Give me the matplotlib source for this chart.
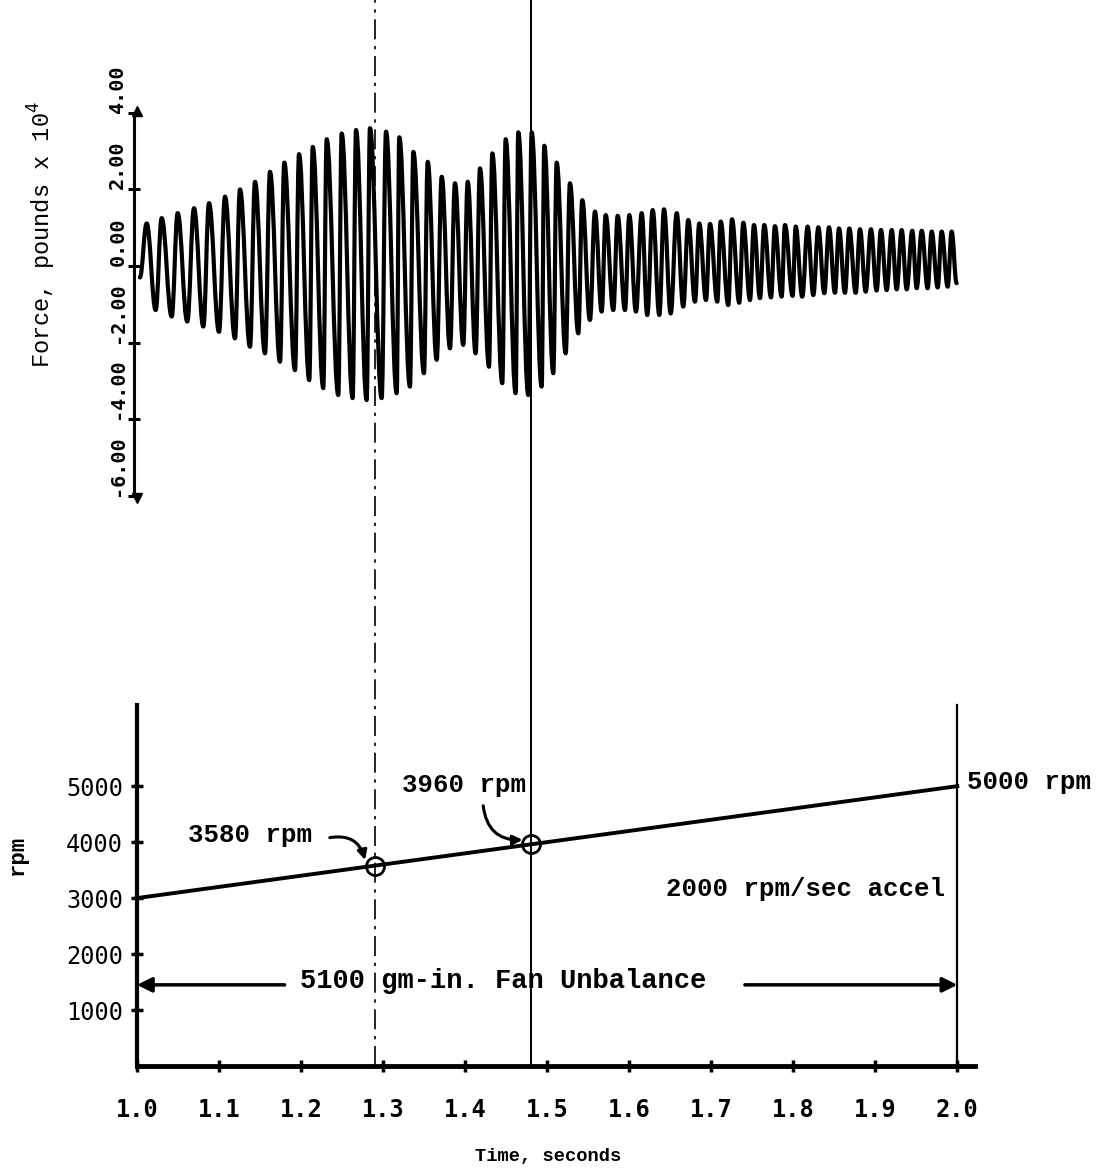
import matplotlib.pyplot as plt
from matplotlib.patches import PathPatch
from matplotlib.path import Path

# force trace extrema (time [s], force [lb x 1e4])
peak_time = [1.0118, 1.0301, 1.0496, 1.0695, 1.0878, 1.1073, 1.1256, 1.1439, 1.1622, 1.1796,
             1.1976, 1.2143, 1.2313, 1.2496, 1.2671, 1.2841, 1.3037, 1.3199, 1.3370, 1.3545,
             1.3716, 1.3878, 1.4033, 1.4183, 1.4333, 1.4496, 1.4650, 1.4813, 1.4967, 1.5118,
             1.5280, 1.5430, 1.5585, 1.5716, 1.5862, 1.6004, 1.6155, 1.6289, 1.6427, 1.6582,
             1.6723, 1.6857, 1.6988, 1.7118, 1.7256, 1.7394, 1.7524, 1.7650, 1.7780, 1.7902,
             1.8033, 1.8179, 1.8309, 1.8439, 1.8561, 1.8687, 1.8817, 1.8951, 1.9073, 1.9204,
             1.9326, 1.9455, 1.9570, 1.9691, 1.9813, 1.9935]
peak_force = [1.11, 1.25, 1.38, 1.51, 1.64, 1.81, 2.00, 2.20, 2.46, 2.70,
              2.92, 3.11, 3.31, 3.46, 3.55, 3.60, 3.51, 3.36, 2.98, 2.72,
              2.33, 2.16, 2.20, 2.55, 2.94, 3.31, 3.49, 3.49, 3.14, 2.70,
              2.16, 1.72, 1.42, 1.33, 1.31, 1.33, 1.38, 1.46, 1.48, 1.38,
              1.20, 1.11, 1.10, 1.16, 1.22, 1.13, 1.07, 1.07, 1.04, 1.07,
              1.03, 1.03, 1.01, 1.01, 0.98, 0.98, 0.96, 0.96, 0.94, 0.94,
              0.94, 0.92, 0.92, 0.90, 0.90, 0.90]
trough_time = [1.0035, 1.0228, 1.0423, 1.0613, 1.0809, 1.1000, 1.1195, 1.1378, 1.1561, 1.1744,
               1.1927, 1.2101, 1.2272, 1.2455, 1.2630, 1.2801, 1.2984, 1.3167, 1.3329, 1.3500,
               1.3655, 1.3817, 1.3979, 1.4130, 1.4293, 1.4455, 1.4618, 1.4772, 1.4935, 1.5077,
               1.5228, 1.5382, 1.5524, 1.5667, 1.5809, 1.5951, 1.6085, 1.6223, 1.6370, 1.6509,
               1.6662, 1.6805, 1.6939, 1.7077, 1.7211, 1.7345, 1.7476, 1.7598, 1.7732, 1.7862,
               1.7996, 1.8113, 1.8248, 1.8382, 1.8512, 1.8634, 1.8765, 1.8887, 1.9020, 1.9143,
               1.9265, 1.9387, 1.9509, 1.9643, 1.9765, 1.9887, 1.9996]
trough_force = [-0.30, -1.15, -1.32, -1.45, -1.58, -1.72, -1.89, -2.11, -2.28, -2.50,
                -2.72, -2.98, -3.19, -3.37, -3.45, -3.50, -3.45, -3.32, -3.15, -2.80,
                -2.45, -2.15, -2.06, -2.28, -2.63, -3.06, -3.32, -3.37, -3.15, -2.80,
                -2.28, -1.76, -1.41, -1.19, -1.15, -1.15, -1.19, -1.28, -1.28, -1.24,
                -1.06, -0.93, -0.89, -0.93, -1.02, -0.96, -0.89, -0.84, -0.82, -0.80,
                -0.78, -0.80, -0.76, -0.71, -0.70, -0.70, -0.70, -0.67, -0.64, -0.63,
                -0.61, -0.61, -0.58, -0.58, -0.56, -0.54, -0.45]

# rpm ramp and the two marked speeds
ramp_time = [1.0, 2.0]
ramp_rpm = [3000, 5000]
marked_time = [1.29, 1.48]
marked_rpm = [3580, 3960]
unbalance_rpm = 1450

time_ticks = [1.0, 1.1, 1.2, 1.3, 1.4, 1.5, 1.6, 1.7, 1.8, 1.9, 2.0]
rpm_ticks = [1000, 2000, 3000, 4000, 5000]
force_ticks = [-6, -4, -2, 0, 2, 4]
force_tick_labels = ["-6.00", "-4.00", "-2.00", "0.00", "2.00", "4.00"]

MONO = "Liberation Mono"
TICKFONT = "DejaVu Sans Mono"
W, H = 1110, 1175


def box(left, top, right, bottom):
    # pixel box -> figure fraction rect
    return [left / W, 1 - bottom / H, (right - left) / W, (bottom - top) / H]


def smooth_path(points):
    # bezier segments with flat tangents at each extremum, so the trace looks like a wave
    verts = [points[0]]
    codes = [Path.MOVETO]
    for (t0, f0), (t1, f1) in zip(points[:-1], points[1:]):
        dt = t1 - t0
        verts += [(t0 + 0.4 * dt, f0), (t1 - 0.4 * dt, f1), (t1, f1)]
        codes += [Path.CURVE4] * 3
    return Path(verts, codes)


fig = plt.figure(figsize=(W / 100, H / 100), dpi=100)
fig.patch.set_facecolor("white")

ax_f = fig.add_axes(box(137, 112.8, 975, 495.8))
ax_r = fig.add_axes(box(137, 705, 1000, 1066))

for ax in (ax_f, ax_r):
    ax.patch.set_alpha(0)
    for side in ("top", "right"):
        ax.spines[side].set_visible(False)
ax_f.set_xlim(1.0, 2.022)
ax_r.set_xlim(1.0, 2.052)
ax_r.spines["bottom"].set_bounds(1.0, 2.022)

# --- force trace ---
pts = sorted(zip(peak_time + trough_time, peak_force + trough_force))
ax_f.add_patch(PathPatch(smooth_path(pts), fill=False, edgecolor="black", lw=3.0,
                         joinstyle="round", capstyle="round", zorder=3))
ax_f.set_ylim(-6, 4)
ax_f.spines["bottom"].set_visible(False)
ax_f.spines["left"].set_linewidth(2.2)
ax_f.spines["left"].set_position(("outward", 2))
ax_f.set_xticks([])
ax_f.set_yticks(force_ticks)
ax_f.set_yticklabels(force_tick_labels, rotation=90, va="bottom",
                     fontfamily=TICKFONT, fontweight="bold", fontsize=14.5)
ax_f.tick_params(axis="y", direction="inout", length=8, width=2.2, pad=1)
ax_f.plot([0], [4.05], marker="^", ms=7, color="black", transform=ax_f.get_yaxis_transform(),
          clip_on=False)
ax_f.plot([0], [-6.05], marker="v", ms=7, color="black", transform=ax_f.get_yaxis_transform(),
          clip_on=False)
fig.text(42 / W, 1 - 235 / H, r"Force, pounds x 10$^4$", rotation=90, ha="center", va="center",
         fontfamily=MONO, fontsize=17)

# --- rpm panel ---
top_rpm = 6450
ax_r.set_ylim(0, top_rpm)
ax_r.spines["left"].set_linewidth(3)
ax_r.spines["bottom"].set_linewidth(3.5)
ax_r.set_xticks(time_ticks)
ax_r.set_xticklabels([f"{t:.1f}" for t in time_ticks], fontfamily=TICKFONT,
                     fontweight="bold", fontsize=17)
ax_r.set_yticks(rpm_ticks)
ax_r.set_yticklabels([str(r) for r in rpm_ticks], fontfamily=TICKFONT, fontsize=17)
ax_r.tick_params(direction="inout", length=8, width=2.5)
ax_r.tick_params(axis="x", pad=19)
ax_r.tick_params(axis="y", pad=6)

ax_r.plot(ramp_time, ramp_rpm, color="black", lw=2.8, zorder=3)
ax_r.plot(marked_time, marked_rpm, "o", ms=13, mfc="none", mec="black", mew=2, zorder=4)

# vertical reference lines, running up through the force panel
reach = 1066 / (1066 - 705)
ax_r.axvline(marked_time[0], 0, reach, color="black", lw=1.2, ls=(0, (12, 4, 2, 4)),
             clip_on=False, zorder=1)
ax_r.axvline(marked_time[1], 0, reach, color="black", lw=1.4, clip_on=False, zorder=1)
ax_r.axvline(2.0, 0, 1, color="black", lw=1.6, clip_on=False, zorder=1)

# speed labels
label_kw = dict(fontfamily=MONO, fontweight="bold", fontsize=18.5, va="center")
ax_r.text(1.062, 4120, "3580 rpm", ha="left", **label_kw)
ax_r.text(1.323, 5020, "3960 rpm", ha="left", **label_kw)
ax_r.text(2.012, 5080, "5000 rpm", ha="left", **label_kw)
ax_r.text(1.985, 3160, "2000 rpm/sec accel", ha="right", **label_kw)
ax_r.annotate("", xy=(1.278, 3680), xytext=(1.235, 4080),
              arrowprops=dict(arrowstyle="-|>", lw=2.2, color="black", mutation_scale=14,
                              connectionstyle="arc3,rad=-0.45", shrinkA=0, shrinkB=0))
ax_r.annotate("", xy=(1.470, 4040), xytext=(1.422, 4650),
              arrowprops=dict(arrowstyle="-|>", lw=2.2, color="black", mutation_scale=14,
                              connectionstyle="arc3,rad=0.45", shrinkA=0, shrinkB=0))

# unbalance span
ax_r.annotate("", xy=(1.0, unbalance_rpm), xytext=(1.18, unbalance_rpm),
              arrowprops=dict(arrowstyle="-|>", lw=2.5, color="black", mutation_scale=22,
                              shrinkA=0, shrinkB=0))
ax_r.annotate("", xy=(2.0, unbalance_rpm), xytext=(1.741, unbalance_rpm),
              arrowprops=dict(arrowstyle="-|>", lw=2.5, color="black", mutation_scale=22,
                              shrinkA=0, shrinkB=0))
ax_r.text(1.446, unbalance_rpm + 60, "5100 gm-in. Fan Unbalance", ha="center",
          **dict(label_kw, fontsize=19.5))

fig.text(17 / W, 1 - 855 / H, "rpm", rotation=90, ha="center", va="center",
         fontfamily=MONO, fontweight="bold", fontsize=16)
fig.text(548 / W, 1 - 1156 / H, "Time, seconds", ha="center", va="center",
         fontfamily=MONO, fontweight="bold", fontsize=13.5)

fig.savefig("out.png", dpi=100)
